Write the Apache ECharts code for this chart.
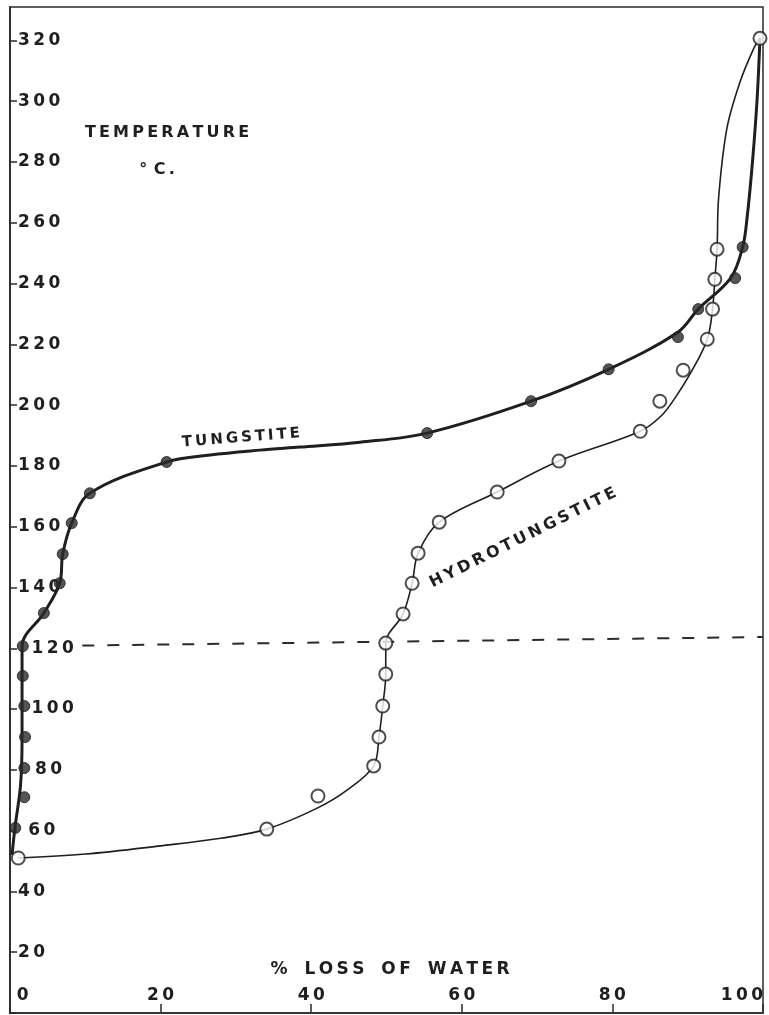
<!DOCTYPE html>
<html><head><meta charset="utf-8">
<script src="https://cdn.jsdelivr.net/npm/echarts@6/dist/echarts.min.js"></script>
<style>html,body{margin:0;padding:0;background:#fff}#c{width:769px;height:1015px}</style>
</head><body><div id="c"></div>
<script>
// ---- data ----
const xTickValues = [0, 20, 40, 60, 80, 100];
const yTickValues = [20, 40, 60, 80, 100, 120, 140, 160, 180, 200, 220, 240, 260, 280, 300, 320];

// Tungstite (filled circles): temperature °C and % loss of water
const tungstiteTemp = [60.9, 71.0, 80.6, 90.8, 101.0, 110.9, 120.7, 131.6, 141.4, 151.0, 161.2, 171.0, 181.3, 190.8, 201.3, 211.8, 222.4, 231.6, 241.8, 252.0];
const tungstiteLoss = [0.7, 1.9, 1.9, 2.0, 1.9, 1.7, 1.7, 4.5, 6.6, 7.0, 8.2, 10.6, 20.8, 55.4, 69.2, 79.5, 88.7, 91.4, 96.3, 97.3];

// Hydrotungstite (open circles)
const hydroTemp = [51.0, 60.5, 71.4, 81.3, 90.8, 101.0, 111.5, 121.7, 131.3, 141.4, 151.3, 161.5, 171.4, 181.6, 191.4, 201.3, 211.5, 221.7, 231.6, 241.4, 251.3, 320.7];
const hydroLoss = [1.1, 34.1, 40.9, 48.3, 49.0, 49.5, 49.9, 49.9, 52.2, 53.4, 54.2, 57.0, 64.7, 72.9, 83.7, 86.3, 89.4, 92.6, 93.3, 93.6, 93.9, 99.6];

// Drawn smooth curves
const tungstiteCurveLoss = [0.27, 0.66, 1.4, 1.6, 1.6, 1.6, 4.5, 6.6, 7.0, 8.2, 10.6, 20.8, 26.6, 33.2, 38.5, 46.5, 55.4, 69.2, 79.5, 88.7, 91.4, 95.7, 97.3, 97.9, 98.6, 99.2, 99.6];
const tungstiteCurveTemp = [52, 61, 75, 90, 105, 120.7, 131.6, 141.4, 151, 161.2, 171, 181.3, 183.6, 185.2, 186.2, 187.8, 190.8, 201.3, 211.8, 224.0, 231.6, 241.8, 252, 262, 280, 300, 320.7];
const hydroCurveLoss = [1.1, 10, 20, 28, 34.1, 40.8, 44.8, 48.3, 49.0, 49.5, 49.9, 49.9, 52.2, 53.4, 54.2, 57.0, 64.7, 72.9, 83.7, 86.5, 88.3, 90.6, 92.6, 93.3, 93.6, 93.9, 94.1, 95.2, 96.9, 98.7, 99.6];
const hydroCurveTemp = [51, 52.3, 55, 57.5, 60.5, 67.4, 73.4, 81.3, 90.8, 101, 111.5, 121.7, 131.3, 141.4, 151.3, 161.5, 171.4, 181.6, 191.4, 196.5, 202.3, 211.5, 221.7, 231.6, 241.4, 251.3, 268, 291, 306, 317, 320.7];

// dashed reference line (start / end)
const dashedLoss = [9.6, 100];
const dashedTemp = [120.9, 123.7];

// ---- helpers ----
const zip = (xs, ys) => xs.map((x, i) => [x, ys[i]]);
const TS = '\u2009';
const sp = s => s.split('').join(TS);
const INK = '#1f1f1f';
const FONT = '"DejaVu Sans", sans-serif';
// extra left indent (thin spaces) of some y labels, as in the reference
const yIndent = {60: 3, 80: 5, 100: 4, 120: 4};

const chart = echarts.init(document.getElementById('c'), null, {renderer: 'canvas'});
chart.setOption({
  animation: false,
  backgroundColor: '#ffffff',
  grid: {left: 10, right: 6, top: 7, bottom: 2, show: true, borderColor: '#2b2b2b', borderWidth: 1.5},
  xAxis: {
    type: 'value', min: 0, max: 100, interval: 20,
    axisLine: {show: true, lineStyle: {color: '#2b2b2b', width: 1.5}},
    axisTick: {show: true, inside: true, length: 9, lineStyle: {color: '#2b2b2b', width: 1.5}},
    splitLine: {show: false},
    axisLabel: {
      inside: true, margin: 9, color: INK, fontFamily: FONT, fontWeight: 'bold', fontSize: 17,
      alignMinLabel: 'left', alignMaxLabel: 'right',
      formatter: v => (xTickValues.indexOf(v) >= 0 ? (v === 0 ? TS + TS + '0' : sp(String(v))) : '')
    }
  },
  yAxis: {
    type: 'value', min: 0, max: 331, interval: 20,
    axisLine: {show: true, lineStyle: {color: '#2b2b2b', width: 1.8}},
    axisTick: {show: true, inside: true, length: 7, lineStyle: {color: '#2b2b2b', width: 1.5}},
    splitLine: {show: false},
    axisLabel: {
      inside: true, margin: 8, color: INK, fontFamily: FONT, fontWeight: 'bold', fontSize: 17,
      showMaxLabel: false, padding: [7, 0, 0, 0],
      formatter: v => (yTickValues.indexOf(v) >= 0 ? TS.repeat(yIndent[v] || 0) + sp(String(v)) : '')
    }
  },
  series: [
    {
      name: 'Tungstite curve', type: 'line', data: zip(tungstiteCurveLoss, tungstiteCurveTemp),
      smooth: 0.35, showSymbol: false, symbol: 'none', z: 2,
      lineStyle: {color: INK, width: 3}, silent: true,
      markLine: {
        silent: true, symbol: ['none', 'none'], label: {show: false},
        lineStyle: {type: [12, 13], width: 2, color: '#2b2b2b'},
        data: [[{coord: [dashedLoss[0], dashedTemp[0]]}, {coord: [dashedLoss[1], dashedTemp[1]]}]]
      }
    },
    {
      name: 'Hydrotungstite curve', type: 'line', data: zip(hydroCurveLoss, hydroCurveTemp),
      smooth: 0.35, showSymbol: false, symbol: 'none', z: 2,
      lineStyle: {color: INK, width: 1.6}, silent: true
    },
    {
      name: 'Tungstite', type: 'scatter', data: zip(tungstiteLoss, tungstiteTemp),
      symbol: 'circle', symbolSize: 11, z: 4,
      itemStyle: {color: '#2a2a2a', borderColor: '#1a1a1a', borderWidth: 1}
    },
    {
      name: 'Hydrotungstite', type: 'scatter', data: zip(hydroLoss, hydroTemp),
      symbol: 'circle', symbolSize: 13, z: 5,
      itemStyle: {color: '#ffffff', borderColor: '#222222', borderWidth: 2}
    }
  ],
  graphic: [
    {type: 'text', x: 167, y: 133, style: {text: sp('TEMPERATURE'), font: 'bold 16px ' + FONT, fill: INK, align: 'center', verticalAlign: 'middle'}},
    {type: 'text', x: 157, y: 170, style: {text: '°' + TS + TS + 'C' + TS + '.', font: 'bold 16px ' + FONT, fill: INK, align: 'center', verticalAlign: 'middle'}},
    {type: 'text', x: 241, y: 438, rotation: 4.5 * Math.PI / 180, style: {text: sp('TUNGSTITE'), font: 'bold 15px ' + FONT, fill: INK, align: 'center', verticalAlign: 'middle'}},
    {type: 'text', x: 523, y: 538, rotation: 26.4 * Math.PI / 180, style: {text: sp('HYDROTUNGSTITE'), font: 'bold 16px ' + FONT, fill: INK, align: 'center', verticalAlign: 'middle'}},
    {type: 'text', x: 390, y: 970, style: {text: '%' + TS.repeat(5) + sp('LOSS') + TS.repeat(5) + sp('OF') + TS.repeat(5) + sp('WATER'), font: 'bold 17px ' + FONT, fill: INK, align: 'center', verticalAlign: 'middle'}}
  ]
});
</script>
</body></html>
